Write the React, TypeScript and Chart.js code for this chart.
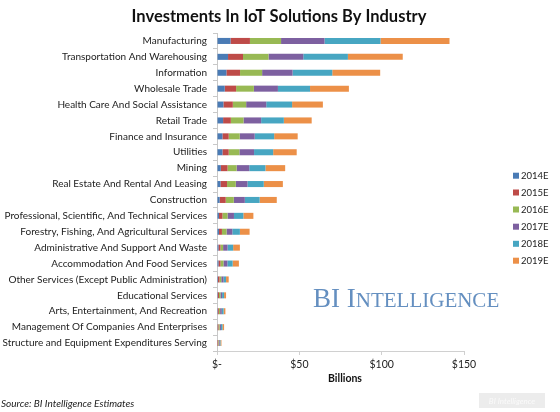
import { useEffect, useRef } from "react";
import { Chart, registerables } from "chart.js";
Chart.register(...registerables);

const categories = [
  "Manufacturing",
  "Transportation And Warehousing",
  "Information",
  "Wholesale Trade",
  "Health Care And Social Assistance",
  "Retail Trade",
  "Finance and Insurance",
  "Utilities",
  "Mining",
  "Real Estate And Rental And Leasing",
  "Construction",
  "Professional, Scientific, And Technical Services",
  "Forestry, Fishing, And Agricultural Services",
  "Administrative And Support And Waste",
  "Accommodation And Food Services",
  "Other Services (Except Public Administration)",
  "Educational Services",
  "Arts, Entertainment, And Recreation",
  "Management Of Companies And Enterprises",
  "Structure and Equipment Expenditures Serving",
];

const seriesNames = ["2014E", "2015E", "2016E", "2017E", "2018E", "2019E"];

const v2014E = [8.2, 6.7, 5.7, 4.7, 3.9, 3.7, 3.3, 3.3, 2.3, 2.1, 1.6, 1.2, 1.2, 0.9, 0.9, 0.6, 0.5, 0.5, 0.4, 0.3];
const v2015E = [11.8, 9.1, 8.3, 6.9, 5.7, 4.7, 3.8, 3.8, 4.1, 4.0, 3.7, 2.1, 1.8, 1.2, 1.2, 0.9, 0.7, 0.6, 0.5, 0.4];
const v2016E = [18.9, 15.5, 13.4, 10.8, 8.1, 7.7, 6.7, 6.5, 5.5, 5.3, 4.9, 3.1, 2.8, 1.6, 1.8, 1.1, 0.9, 0.8, 0.7, 0.4];
const v2017E = [26.4, 21.1, 18.5, 14.6, 12.2, 10.7, 9.1, 8.9, 7.7, 7.1, 6.7, 3.9, 3.5, 2.7, 2.4, 1.4, 1.0, 1.0, 0.8, 0.5];
const v2018E = [34.0, 27.1, 24.1, 19.5, 15.7, 13.8, 11.8, 11.6, 9.8, 9.9, 9.0, 5.7, 4.6, 3.4, 3.2, 1.5, 1.2, 1.1, 0.9, 0.5];
const v2019E = [41.9, 33.3, 29.1, 23.6, 18.7, 16.9, 14.3, 14.3, 12.0, 11.6, 10.4, 6.1, 5.9, 4.1, 3.8, 1.6, 1.2, 1.1, 1.0, 0.6];

const xTicks = [0, 50, 100, 150];

const colors = ["#4a7bb5", "#be4b48", "#98b954", "#7d60a0", "#47a6c2", "#ec9048"];

const FONT = "Lato, 'Open Sans', sans-serif";

export default function App() {
  const ref = useRef<HTMLCanvasElement | null>(null);

  useEffect(() => {
    document.body.style.margin = "0";
    const canvas = ref.current;
    if (!canvas) return;
    const allSeries = [v2014E, v2015E, v2016E, v2017E, v2018E, v2019E];

    const overlay = {
      id: "overlay",
      afterDraw(chart: any) {
        const ctx = chart.ctx;
        ctx.save();
        // title
        ctx.fillStyle = "#111";
        ctx.font = `bold 16.5px ${FONT}`;
        ctx.textAlign = "center";
        ctx.textBaseline = "middle";
        ctx.fillText("Investments In IoT Solutions By Industry", 279, 17);
        // axis title
        ctx.font = `bold 10.5px ${FONT}`;
        ctx.fillText("Billions", 345, 379);
        // source
        ctx.font = `italic 10px ${FONT}`;
        ctx.textAlign = "left";
        ctx.fillStyle = "#222";
        ctx.fillText("Source: BI Intelligence Estimates", 1, 404);
        // badge
        ctx.fillStyle = "#ececec";
        ctx.fillRect(479, 393, 66, 15);
        ctx.fillStyle = "#fafafa";
        ctx.font = `italic 8px ${FONT}`;
        ctx.textAlign = "center";
        ctx.fillText("BI Intelligence", 512, 401);
        // legend
        const ys = [175.7, 192.5, 209.5, 226.7, 243.8, 260.7];
        chart.data.datasets.forEach((ds: any, i: number) => {
          ctx.fillStyle = ds.backgroundColor;
          ctx.fillRect(513, ys[i] - 3, 6, 6);
          ctx.fillStyle = "#222";
          ctx.font = `9.5px ${FONT}`;
          ctx.textAlign = "left";
          ctx.fillText(ds.label, 521, ys[i] + 0.5);
        });
        // watermark
        ctx.fillStyle = "#648fc0";
        ctx.textAlign = "left";
        ctx.textBaseline = "alphabetic";
        ctx.font = `27px 'Liberation Serif', serif`;
        let x = 313;
        const base = 307;
        ctx.fillText("BI I", x, base);
        x += ctx.measureText("BI I").width;
        ctx.font = `21px 'Liberation Serif', serif`;
        ctx.fillText("NTELLIGENCE", x, base);
        ctx.restore();
      },
    };

    const chart = new Chart(canvas, {
      type: "bar",
      data: {
        labels: categories,
        datasets: allSeries.map((d, i) => ({
          label: seriesNames[i],
          data: d,
          backgroundColor: colors[i],
          borderWidth: 0,
          barPercentage: 0.38,
          categoryPercentage: 1,
        })),
      },
      options: {
        indexAxis: "y",
        animation: false,
        responsive: false,
        maintainAspectRatio: false,
        layout: { padding: { top: 33, right: 96, left: 0, bottom: 0 } },
        plugins: {
          legend: { display: false },
          title: { display: false },
          tooltip: { enabled: false },
        },
        scales: {
          x: {
            stacked: true,
            min: 0,
            max: 150,
            afterFit(scale: any) {
              scale.height = 61;
            },
            afterBuildTicks(scale: any) {
              scale.ticks = xTicks.map((v) => ({ value: v }));
            },
            grid: {
              drawOnChartArea: false,
              drawTicks: true,
              tickLength: 4,
              color: "#d0d0d0",
            },
            border: { display: true, color: "#d0d0d0" },
            ticks: {
              padding: 3,
              color: "#222",
              font: { family: FONT, size: 10.5 },
              callback: (v: any) => (Number(v) === 0 ? "$-" : "$" + v),
            },
          },
          y: {
            stacked: true,
            afterFit(scale: any) {
              scale.width = 217;
            },
            grid: {
              offset: true,
              drawOnChartArea: false,
              drawTicks: true,
              tickLength: 4,
              color: "#c8c8c8",
            },
            border: { display: true, color: "#c8c8c8" },
            ticks: {
              padding: 6,
              color: "#222",
              autoSkip: false,
              font: { family: FONT, size: 10 },
            },
          },
        },
      },
      plugins: [overlay],
    });
    return () => chart.destroy();
  }, []);

  return (
    <div style={{ width: 560, height: 412, background: "#fff" }}>
      <canvas ref={ref} width={560} height={412} style={{ width: 560, height: 412, display: "block" }} />
    </div>
  );
}
